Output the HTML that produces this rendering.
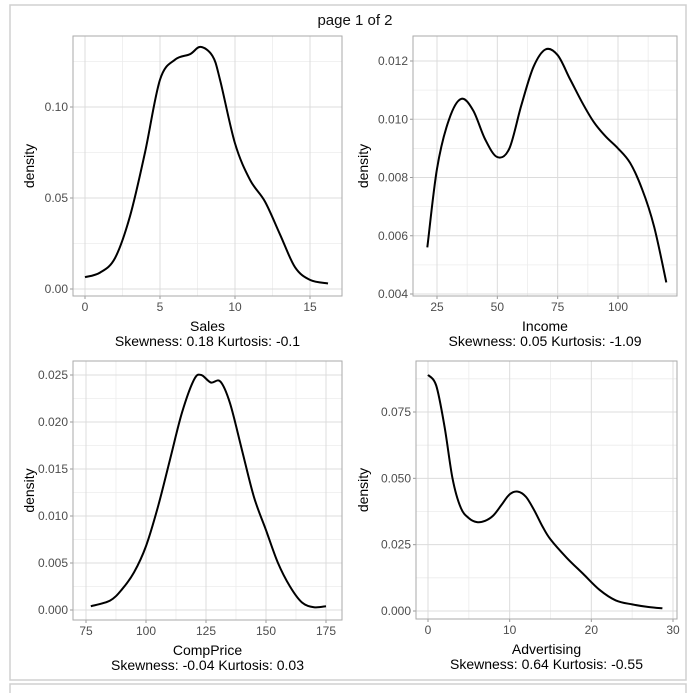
<!DOCTYPE html>
<html><head><meta charset="utf-8">
<style>
html,body{margin:0;padding:0;background:#fff;}
body{width:696px;height:693px;overflow:hidden;font-family:"Liberation Sans",Arial,sans-serif;}
svg text{font-family:"Liberation Sans",Arial,sans-serif;}
</style></head>
<body>
<svg id="chart" width="696" height="693" viewBox="0 0 696 693" xmlns="http://www.w3.org/2000/svg">
<rect x="10" y="5" width="676" height="675" fill="#fff" stroke="#d0d0d0" stroke-width="1.5"/>
<rect x="10" y="684" width="676" height="20" fill="#fff" stroke="#d0d0d0" stroke-width="1.5"/>
<text x="355" y="25" font-size="15" text-anchor="middle" fill="#111">page 1 of 2</text>
<g id="panels"></g>
</svg>
<script>
const salesX=[0,1,2,3,4,5,6,7,7.7,8.5,9,10,11,12,13,14,15,16.2];
const salesY=[0.0065,0.009,0.017,0.04,0.075,0.115,0.126,0.129,0.133,0.128,0.115,0.08,0.06,0.048,0.03,0.012,0.005,0.003];
const incomeX=[21,25,30,35,40,45,50,55,60,65,70,75,80,85,90,95,100,105,110,115,120];
const incomeY=[0.0056,0.0083,0.0100,0.0107,0.0103,0.0093,0.0087,0.0090,0.0105,0.0118,0.0124,0.0122,0.0114,0.0106,0.0099,0.0094,0.0090,0.0085,0.0076,0.0063,0.0044];
const compX=[77,85,90,95,100,105,110,115,120,123,127,131,135,140,145,150,155,160,165,170,175];
const compY=[0.0004,0.0010,0.0022,0.004,0.0068,0.011,0.016,0.021,0.0245,0.025,0.0242,0.0243,0.022,0.017,0.012,0.0085,0.005,0.0025,0.0008,0.0003,0.0004];
const advX=[0,1,2,3,4,5,6,7,8,9,10,11,12,13,14,15,17,19,21,23,25,27,28.7];
const advY=[0.089,0.085,0.07,0.05,0.039,0.035,0.0335,0.034,0.036,0.040,0.044,0.045,0.043,0.038,0.032,0.027,0.020,0.014,0.008,0.004,0.0025,0.0015,0.001];
const salesXTicks=[0,5,10,15], salesYTicks=[0,0.05,0.10], salesYLabels=["0.00","0.05","0.10"];
const incomeXTicks=[25,50,75,100], incomeYTicks=[0.004,0.006,0.008,0.010,0.012], incomeYLabels=["0.004","0.006","0.008","0.010","0.012"];
const compXTicks=[75,100,125,150,175], compYTicks=[0,0.005,0.010,0.015,0.020,0.025], compYLabels=["0.000","0.005","0.010","0.015","0.020","0.025"];
const advXTicks=[0,10,20,30], advYTicks=[0,0.025,0.05,0.075], advYLabels=["0.000","0.025","0.050","0.075"];

const NS="http://www.w3.org/2000/svg";
const root=document.getElementById('panels');
function mk(tag,attrs,parent){const e=document.createElementNS(NS,tag);for(const k in attrs)e.setAttribute(k,attrs[k]);(parent||root).appendChild(e);return e;}
function smooth(P){
  let d='M'+P[0][0].toFixed(1)+','+P[0][1].toFixed(1);
  for(let i=0;i<P.length-1;i++){
    const p0=P[i-1]||P[i],p1=P[i],p2=P[i+1],p3=P[i+2]||P[i+1];
    const c1=[p1[0]+(p2[0]-p0[0])/6,p1[1]+(p2[1]-p0[1])/6];
    const c2=[p2[0]-(p3[0]-p1[0])/6,p2[1]-(p3[1]-p1[1])/6];
    d+=' C'+c1.map(v=>v.toFixed(1)).join(',')+' '+c2.map(v=>v.toFixed(1)).join(',')+' '+p2[0].toFixed(1)+','+p2[1].toFixed(1);
  }
  return d;
}
function panel(p){
  const g=mk('g',{});
  
  
  const sx=v=>p.px0+(v-p.xv0)*(p.px1-p.px0)/(p.xv1-p.xv0);
  const sy=v=>p.py0+(v-p.yv0)*(p.py1-p.py0)/(p.yv1-p.yv0);
  const xs=p.xt, ys=p.yt;
  for(let i=0;i<xs.length;i++){
    const step=xs[1]-xs[0];
    [xs[i]+step/2,(i==0?xs[0]-step/2:null)].forEach(v=>{if(v===null)return;const X=sx(v);if(X>p.L&&X<p.R){const l=mk('line',{x1:X,x2:X,y1:p.T,y2:p.B,stroke:'#ececec','stroke-width':0.8},g);}});
  }
  for(let i=0;i<ys.length;i++){
    const step=ys[1]-ys[0];
    [ys[i]+step/2,(i==0?ys[0]-step/2:null)].forEach(v=>{if(v===null)return;const Y=sy(v);if(Y>p.T&&Y<p.B){const l=mk('line',{x1:p.L,x2:p.R,y1:Y,y2:Y,stroke:'#ececec','stroke-width':0.8},g);}});
  }
  xs.forEach(v=>{const X=sx(v);
    const l=mk('line',{x1:X,x2:X,y1:p.T,y2:p.B,stroke:'#dcdcdc','stroke-width':1},g);
    
    const t=mk('line',{x1:X,x2:X,y1:p.B,y2:p.B+3,stroke:'#999'},g);
    
    const tx=mk('text',{x:X,y:p.B+15,'font-size':12,'text-anchor':'middle',fill:'#4d4d4d'},g);tx.textContent=v;
    
  });
  ys.forEach((v,i)=>{const Y=sy(v);
    const l=mk('line',{x1:p.L,x2:p.R,y1:Y,y2:Y,stroke:'#dcdcdc','stroke-width':1},g);
    
    const t=mk('line',{x1:p.L-3,x2:p.L,y1:Y,y2:Y,stroke:'#999'},g);
    
    const tx=mk('text',{x:p.L-5,y:Y+4,'font-size':12,'text-anchor':'end',fill:'#4d4d4d'},g);tx.textContent=p.yl[i];
    
  });
  const fr=mk('rect',{x:p.L,y:p.T,width:p.R-p.L,height:p.B-p.T,fill:'none',stroke:'#aaa','stroke-width':1},g);
  
  const P=p.x.map((v,i)=>[sx(v),sy(p.y[i])]);
  const pl=mk('path',{d:smooth(P),fill:'none',stroke:'#000','stroke-width':2,'stroke-linejoin':'round'},g);
  
  const xt=mk('text',{x:(p.L+p.R)/2,y:p.B+35,'font-size':14,'text-anchor':'middle',fill:'#000'},g);xt.textContent=p.xlab;
  
  const st=mk('text',{x:(p.L+p.R)/2,y:p.B+50,'font-size':14,'text-anchor':'middle',fill:'#000'},g);st.textContent=p.stats;
  
  const yt=mk('text',{x:0,y:0,'font-size':14,'text-anchor':'middle',fill:'#000',transform:`translate(${p.ylx},${(p.T+p.B)/2}) rotate(-90)`},g);yt.textContent='density';
  
}
panel({name:'sales',L:73,R:342,T:36,B:296,px0:85,px1:310,xv0:0,xv1:15,py0:289,py1:107,yv0:0,yv1:0.1,x:salesX,y:salesY,xt:salesXTicks,yt:salesYTicks,yl:salesYLabels,xlab:'Sales',stats:'Skewness: 0.18 Kurtosis: -0.1',ylx:34});
panel({name:'income',L:413,R:677,T:36,B:296,px0:437,px1:618,xv0:25,xv1:100,py0:294,py1:61,yv0:0.004,yv1:0.012,x:incomeX,y:incomeY,xt:incomeXTicks,yt:incomeYTicks,yl:incomeYLabels,xlab:'Income',stats:'Skewness: 0.05 Kurtosis: -1.09',ylx:368});
panel({name:'compprice',L:73,R:342,T:361,B:620,px0:86,px1:326,xv0:75,xv1:175,py0:610,py1:375,yv0:0,yv1:0.025,x:compX,y:compY,xt:compXTicks,yt:compYTicks,yl:compYLabels,xlab:'CompPrice',stats:'Skewness: -0.04 Kurtosis: 0.03',ylx:34});
panel({name:'advertising',L:416,R:677,T:361,B:619,px0:428,px1:673,xv0:0,xv1:30,py0:611,py1:412,yv0:0,yv1:0.075,x:advX,y:advY,xt:advXTicks,yt:advYTicks,yl:advYLabels,xlab:'Advertising',stats:'Skewness: 0.64 Kurtosis: -0.55',ylx:368});
</script>
</body></html>
